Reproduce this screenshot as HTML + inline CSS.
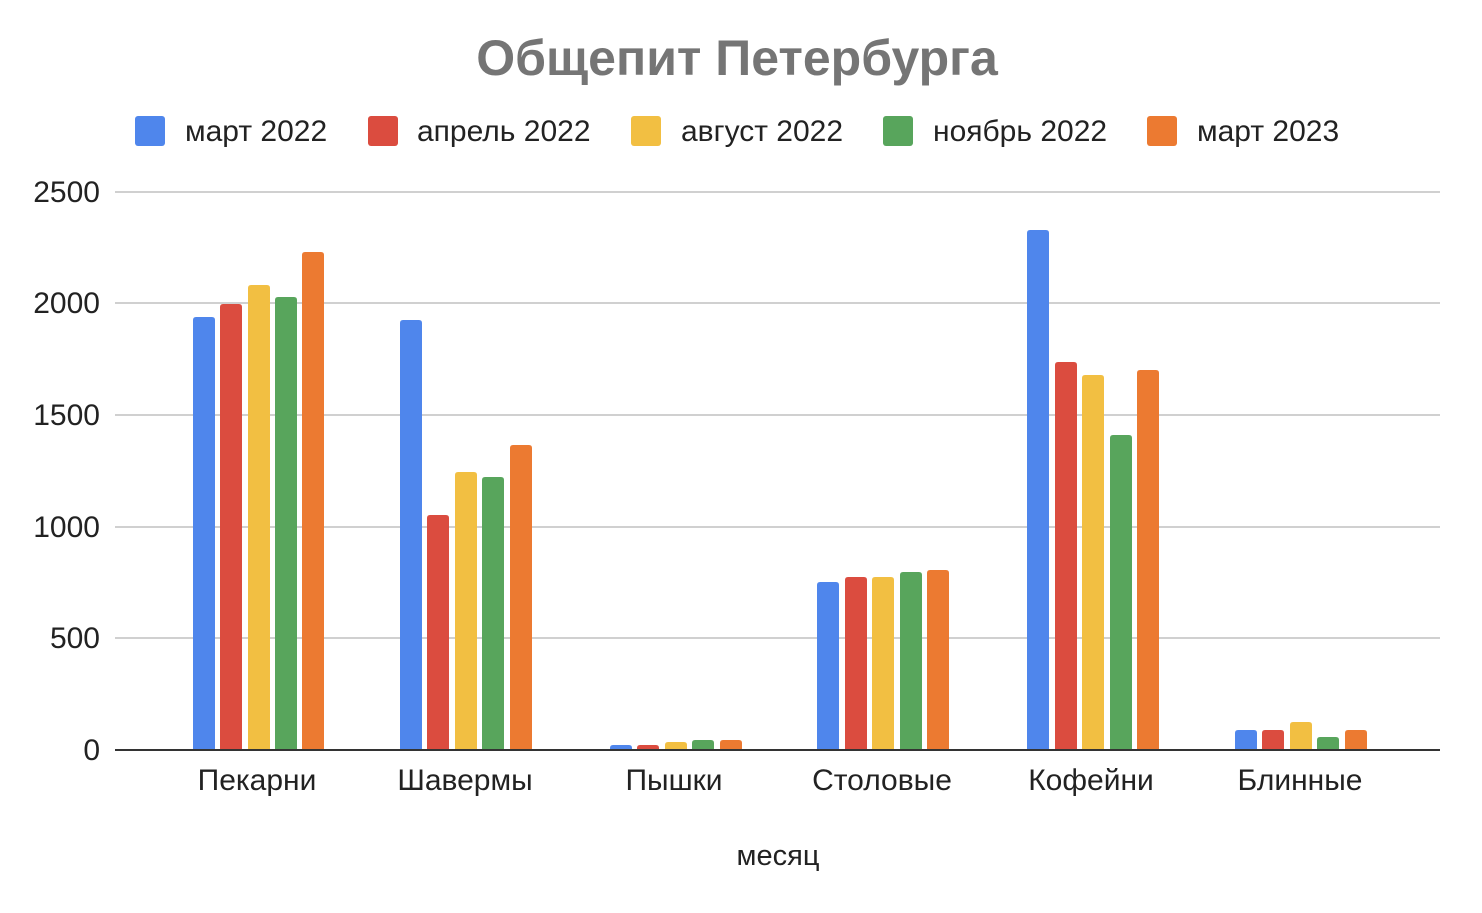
<!DOCTYPE html>
<html><head><meta charset="utf-8"><style>body{margin:0;background:#fff}</style></head><body>
<svg width="1482" height="908" xmlns="http://www.w3.org/2000/svg" font-family="Liberation Sans, Arial, sans-serif">
<rect width="1482" height="908" fill="#fff"/>
<text x="737" y="75" text-anchor="middle" font-size="50" font-weight="bold" fill="#757575">Общепит Петербурга</text>
<g font-size="30" fill="#222">
<rect x="135" y="116" width="30" height="30" rx="3" fill="#4f86ec"/><text x="185" y="141">март 2022</text>
<rect x="368" y="116" width="30" height="30" rx="3" fill="#db4c3f"/><text x="417" y="141">апрель 2022</text>
<rect x="631" y="116" width="30" height="30" rx="3" fill="#f2bf42"/><text x="681" y="141">август 2022</text>
<rect x="883" y="116" width="30" height="30" rx="3" fill="#58a55c"/><text x="933" y="141">ноябрь 2022</text>
<rect x="1147" y="116" width="30" height="30" rx="3" fill="#ec7a31"/><text x="1197" y="141">март 2023</text>
</g>
<g stroke="#d0d0d0" stroke-width="2">
<line x1="115" y1="192" x2="1440" y2="192"/><line x1="115" y1="303" x2="1440" y2="303"/>
<line x1="115" y1="415" x2="1440" y2="415"/><line x1="115" y1="527" x2="1440" y2="527"/>
<line x1="115" y1="638" x2="1440" y2="638"/>
</g>
<g font-size="30" fill="#222" text-anchor="end">
<text x="100" y="202">2500</text><text x="100" y="313">2000</text><text x="100" y="425">1500</text>
<text x="100" y="537">1000</text><text x="100" y="648">500</text><text x="100" y="760">0</text>
</g>
<g>
<g fill="#4f86ec"><path d="M193 750V320q0-3 3-3h16q3 0 3 3V750z"/><path d="M400 750V323q0-3 3-3h16q3 0 3 3V750z"/><path d="M610 750V748q0-3 3-3h16q3 0 3 3V750z"/><path d="M817 750V585q0-3 3-3h16q3 0 3 3V750z"/><path d="M1027 750V233q0-3 3-3h16q3 0 3 3V750z"/><path d="M1235 750V733q0-3 3-3h16q3 0 3 3V750z"/></g>
<g fill="#db4c3f"><path d="M220 750V307q0-3 3-3h16q3 0 3 3V750z"/><path d="M427 750V518q0-3 3-3h16q3 0 3 3V750z"/><path d="M637 750V748q0-3 3-3h16q3 0 3 3V750z"/><path d="M845 750V580q0-3 3-3h16q3 0 3 3V750z"/><path d="M1055 750V365q0-3 3-3h16q3 0 3 3V750z"/><path d="M1262 750V733q0-3 3-3h16q3 0 3 3V750z"/></g>
<g fill="#f2bf42"><path d="M248 750V288q0-3 3-3h16q3 0 3 3V750z"/><path d="M455 750V475q0-3 3-3h16q3 0 3 3V750z"/><path d="M665 750V745q0-3 3-3h16q3 0 3 3V750z"/><path d="M872 750V580q0-3 3-3h16q3 0 3 3V750z"/><path d="M1082 750V378q0-3 3-3h16q3 0 3 3V750z"/><path d="M1290 750V725q0-3 3-3h16q3 0 3 3V750z"/></g>
<g fill="#58a55c"><path d="M275 750V300q0-3 3-3h16q3 0 3 3V750z"/><path d="M482 750V480q0-3 3-3h16q3 0 3 3V750z"/><path d="M692 750V743q0-3 3-3h16q3 0 3 3V750z"/><path d="M900 750V575q0-3 3-3h16q3 0 3 3V750z"/><path d="M1110 750V438q0-3 3-3h16q3 0 3 3V750z"/><path d="M1317 750V740q0-3 3-3h16q3 0 3 3V750z"/></g>
<g fill="#ec7a31"><path d="M302 750V255q0-3 3-3h16q3 0 3 3V750z"/><path d="M510 750V448q0-3 3-3h16q3 0 3 3V750z"/><path d="M720 750V743q0-3 3-3h16q3 0 3 3V750z"/><path d="M927 750V573q0-3 3-3h16q3 0 3 3V750z"/><path d="M1137 750V373q0-3 3-3h16q3 0 3 3V750z"/><path d="M1345 750V733q0-3 3-3h16q3 0 3 3V750z"/></g>
</g>
<line x1="115" y1="750" x2="1440" y2="750" stroke="#333" stroke-width="2"/>
<g font-size="30" fill="#222" text-anchor="middle">
<text x="257" y="790">Пекарни</text><text x="465" y="790">Шавермы</text><text x="674" y="790">Пышки</text>
<text x="882" y="790">Столовые</text><text x="1091" y="790">Кофейни</text><text x="1300" y="790">Блинные</text>
<text x="778" y="865" font-size="29">месяц</text>
</g>
</svg>
</body></html>
